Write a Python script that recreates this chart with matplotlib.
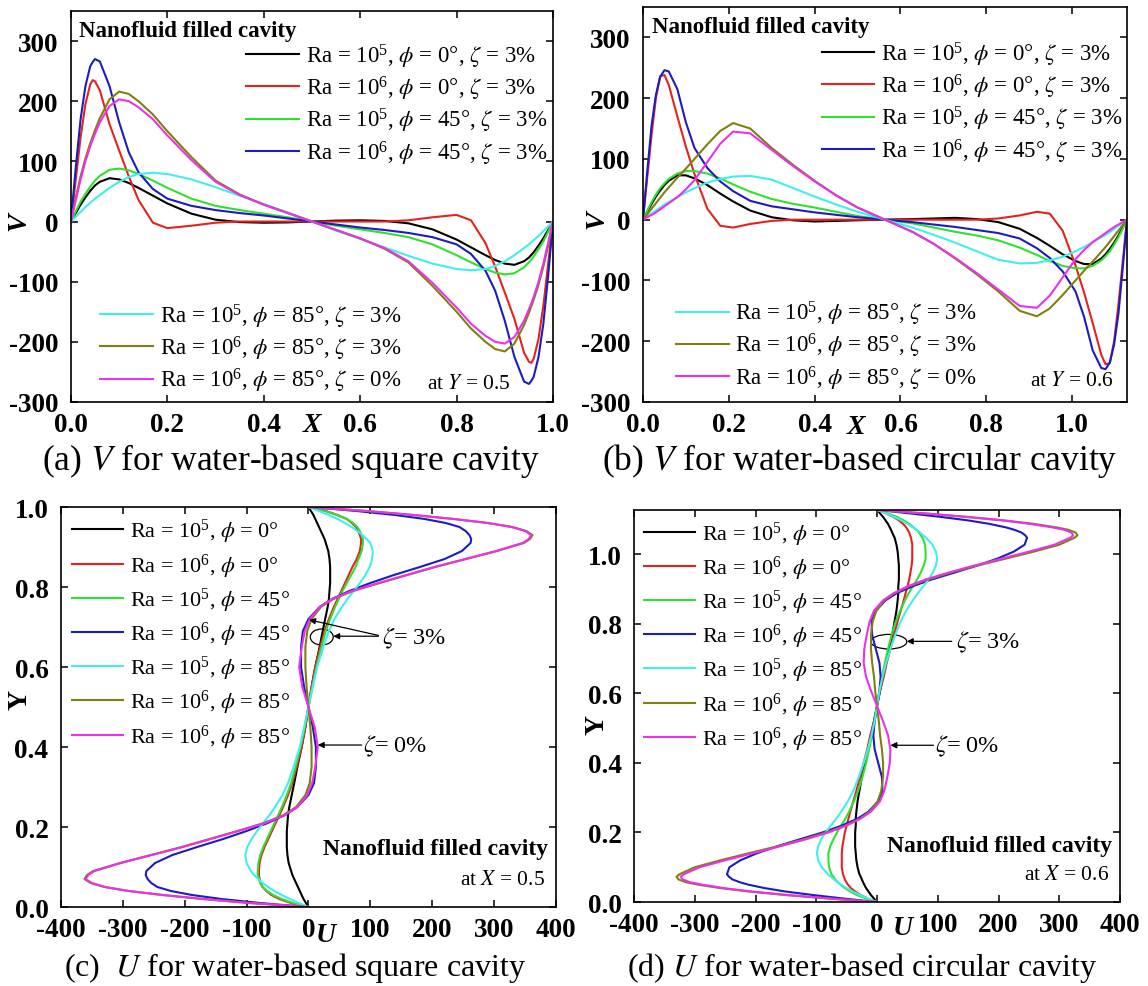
import matplotlib
matplotlib.use("Agg")

import matplotlib.pyplot as plt
from matplotlib.patches import Ellipse

plt.rcParams["font.family"] = "Liberation Serif"
plt.rcParams["mathtext.fontset"] = "stix"

# line colours: black, red, green, blue, cyan, olive, magenta
colors = ["#000000", "#e3241e", "#30e030", "#1c1cc0", "#40eeee", "#80800e", "#ec30ec"]

# ---- (a) V along X at Y = 0.5, square cavity ----
xa = [0.0, 0.01, 0.02, 0.03, 0.04, 0.045, 0.05, 0.06, 0.08, 0.10, 0.12, 0.14, 0.17, 0.20, 0.25, 0.30,
      0.35, 0.40, 0.45, 0.50, 0.55, 0.60, 0.65, 0.70, 0.75, 0.80, 0.83, 0.86, 0.88, 0.90, 0.92,
      0.94, 0.95, 0.955, 0.96, 0.97, 0.98, 0.99, 1.0]
va_black = [0, 14, 28, 40, 51, 55.5, 60, 66, 72, 70, 64, 56, 43, 30, 13, 3, -1, -2, -1.5, 0,
            1.5, 2, 1, -3, -13, -30, -43, -56, -64, -70, -72, -66, -60, -55.5, -51, -40, -28, -14, 0]
va_red = [0, 70, 140, 195, 228, 235, 233, 218, 162, 118, 75, 36, -2, -11, -7, -2, 0, 0, 0, 0,
          0, 0, 0, 2, 7, 11, 2, -36, -75, -118, -162, -218, -233, -235, -228, -195, -140, -70, 0]
va_green = [0, 17, 33, 46, 58, 63, 68, 76, 86, 88, 85, 79, 68, 56, 38, 26, 19, 13, 7, 0,
            -7, -13, -19, -26, -38, -56, -68, -79, -85, -88, -86, -76, -68, -63, -58, -46, -33, -17, 0]
va_blue = [0, 90, 170, 225, 258, 265, 270, 266, 225, 165, 115, 82, 54, 38, 26, 19, 14, 10, 5, 0,
           -5, -10, -14, -19, -26, -38, -54, -82, -115, -165, -225, -266, -270, -265, -258, -225, -170, -90, 0]
va_cyan = [0, 8, 16, 24, 31, 34.5, 38, 44, 56, 66, 74, 79, 81, 79, 70, 57, 43, 29, 15, 0,
           -15, -29, -43, -57, -70, -79, -81, -79, -74, -66, -56, -44, -38, -34.5, -31, -24, -16, -8, 0]
va_olive = [0, 40, 75, 105, 130, 141, 152, 172, 203, 216, 212, 200, 178, 150, 107, 68, 45, 28, 14, 0,
            -14, -28, -45, -68, -107, -150, -178, -200, -212, -216, -203, -172, -152, -141, -130, -105, -75, -40, 0]
va_magenta = [0, 35, 70, 100, 125, 136, 146, 165, 192, 203, 200, 190, 170, 143, 102, 66, 44, 28, 14, 0,
              -14, -28, -44, -66, -102, -143, -170, -190, -200, -203, -192, -165, -146, -136, -125, -100, -70, -35, 0]

# ---- (b) V along X at Y = 0.6, circular cavity ----
xb = [0.0, 0.01, 0.02, 0.03, 0.04, 0.05, 0.06, 0.08, 0.10, 0.12, 0.15, 0.18, 0.21, 0.25, 0.30,
      0.35, 0.40, 0.45, 0.50, 0.564, 0.628, 0.678, 0.728, 0.778, 0.828, 0.878, 0.918, 0.948,
      0.978, 1.008, 1.028, 1.048, 1.068, 1.078, 1.088, 1.098, 1.108, 1.118, 1.128]
vb_black = [0, 13, 26, 38, 48, 57, 64, 73, 73, 68, 57, 43, 30, 15, 4, -1, -3, -2, -1, 0,
            1, 2, 3, 1, -4, -15, -30, -43, -57, -68, -73, -73, -64, -57, -48, -38, -26, -13, 0]
vb_red = [0, 70, 140, 200, 236, 238, 222, 170, 120, 75, 18, -10, -13, -7, -2, 0, 0, 0, 0, 0,
          0, 0, 0, 0, 2, 7, 13, 10, -18, -75, -120, -170, -222, -238, -236, -200, -140, -70, 0]
vb_green = [0, 15, 29, 41, 52, 60, 67, 76, 80, 80, 76, 68, 58, 46, 34, 26, 20, 13, 6, 0,
            -6, -13, -20, -26, -34, -46, -58, -68, -76, -80, -80, -76, -67, -60, -52, -41, -29, -15, 0]
vb_blue = [0, 80, 155, 205, 235, 246, 244, 215, 160, 118, 85, 63, 47, 31, 22, 17, 12, 8, 4, 0,
           -4, -8, -12, -17, -22, -31, -47, -63, -85, -118, -160, -215, -244, -246, -235, -205, -155, -80, 0]
vb_cyan = [0, 5, 10, 15, 20, 25, 29, 37, 45, 52, 61, 67, 71, 72, 66, 52, 38, 25, 13, 0,
           -13, -25, -38, -52, -66, -72, -71, -67, -61, -52, -45, -37, -29, -25, -20, -15, -10, -5, 0]
vb_olive = [0, 9, 18, 27, 36, 45, 53, 69, 84, 100, 124, 146, 159, 150, 118, 90, 64, 40, 20, 0,
            -20, -40, -64, -90, -118, -150, -159, -146, -124, -100, -84, -69, -53, -45, -36, -27, -18, -9, 0]
vb_magenta = [0, 4, 8, 12, 17, 22, 27, 37, 50, 65, 95, 125, 145, 142, 115, 88, 63, 40, 20, 0,
              -20, -40, -63, -88, -115, -142, -145, -125, -95, -65, -50, -37, -27, -22, -17, -12, -8, -4, 0]

# ---- (c) U along Y at X = 0.5, square cavity ----
yc = [0.0, 0.005, 0.01, 0.02, 0.03, 0.04, 0.05, 0.06, 0.07, 0.08, 0.09, 0.11, 0.13, 0.15, 0.17,
      0.19, 0.21, 0.23, 0.25, 0.28, 0.31, 0.35, 0.40, 0.45, 0.50, 0.55, 0.60, 0.65, 0.69, 0.72,
      0.75, 0.77, 0.79, 0.81, 0.83, 0.85, 0.87, 0.89, 0.91, 0.92, 0.93, 0.94, 0.95, 0.96, 0.97,
      0.98, 0.99, 0.995, 1.0]
uc_black = [0, -2, -4, -8, -11, -14, -17, -20, -23, -26, -28, -32, -34, -35, -35, -35, -34, -33, -31, -27, -23, -18, -11, -5, 0,
            5, 11, 18, 23, 27, 31, 33, 34, 35, 35, 35, 34, 32, 28, 26, 23, 20, 17, 14, 11, 8, 4, 2, 0]
uc_red = [0, -15, -28, -47, -60, -68, -74, -77, -79, -80, -80, -79, -76, -71, -65, -59, -53, -47, -41, -33, -26, -19, -11, -5, 0,
          5, 11, 19, 26, 33, 41, 47, 53, 59, 65, 71, 78, 83, 85, 85, 83, 80, 77, 70, 62, 47, 28, 15, 0]
uc_green = [0, -13, -25, -43, -57, -67, -74, -78, -80, -82, -82, -81, -78, -73, -67, -61, -55, -49, -43, -35, -28, -21, -13, -6, 0,
            6, 13, 21, 28, 35, 43, 49, 55, 62, 69, 76, 81, 86, 88, 88, 86, 83, 79, 72, 62, 46, 27, 14, 0]
uc_blue = [0, -40, -78, -140, -188, -222, -244, -254, -260, -263, -262, -248, -220, -180, -138, -100, -66, -38, -18, 0, 9, 12, 12, 7, 0,
           -7, -12, -12, -9, 0, 18, 38, 66, 100, 138, 180, 220, 248, 262, 263, 260, 254, 244, 222, 188, 140, 78, 40, 0]
uc_cyan = [0, -8, -16, -30, -43, -55, -65, -74, -81, -88, -93, -100, -102, -99, -92, -83, -73, -63, -54, -42, -33, -24, -14, -7, 0,
           7, 14, 24, 33, 42, 54, 63, 73, 83, 92, 99, 103, 104, 100, 94, 87, 79, 70, 59, 47, 33, 17, 8, 0]
uc_olive = [0, -48, -95, -170, -235, -290, -330, -352, -362, -358, -348, -305, -255, -205, -160, -115, -72, -40, -20, -5, 2, 5, 5, 3, 0,
            -3, -5, -5, -2, 5, 20, 40, 72, 115, 160, 205, 255, 305, 348, 358, 362, 352, 330, 290, 235, 170, 95, 48, 0]
uc_magenta = [0, -48, -95, -170, -235, -290, -328, -350, -360, -356, -346, -303, -253, -203, -158, -113, -70, -38, -18, -2, 6, 11, 15, 10, 0,
              -10, -15, -11, -6, 2, 18, 38, 70, 113, 158, 203, 253, 303, 346, 356, 360, 350, 328, 290, 235, 170, 95, 48, 0]

# ---- (d) U along Y at X = 0.6, circular cavity ----
yd = [0.0, 0.005, 0.01, 0.02, 0.03, 0.04, 0.05, 0.057, 0.065, 0.073, 0.08, 0.10, 0.12, 0.14, 0.16,
      0.18, 0.20, 0.22, 0.24, 0.26, 0.29, 0.32, 0.36, 0.40, 0.44, 0.48, 0.52, 0.564, 0.608, 0.648,
      0.688, 0.728, 0.768, 0.808, 0.838, 0.868, 0.888, 0.908, 0.928, 0.948, 0.968, 0.988, 1.008,
      1.028, 1.048, 1.055, 1.063, 1.071, 1.078, 1.088, 1.098, 1.108, 1.118, 1.123, 1.128]
ud_black = [0, -3, -5, -10, -14, -18, -21, -23, -25, -27, -29, -32, -34, -35, -36, -36, -36, -35, -35, -34, -32, -29, -25, -20, -15, -10, -5, 0,
            5, 10, 15, 20, 25, 29, 32, 34, 35, 35, 36, 36, 36, 35, 34, 32, 29, 27, 25, 23, 21, 18, 14, 10, 5, 3, 0]
ud_red = [0, -8, -15, -27, -36, -43, -48, -50.5, -53, -54.5, -56, -58, -58, -58, -57, -55, -53, -50, -47, -44, -39, -34, -28, -22, -16, -11, -5, 0,
          5, 11, 16, 22, 28, 34, 39, 44, 47, 50, 53, 55, 57, 58, 58, 58, 56, 54.5, 53, 50.5, 48, 43, 36, 27, 15, 8, 0]
ud_green = [0, -10, -18, -33, -44, -53, -60, -64.5, -69, -72, -75, -79, -80, -80, -77, -72, -66, -59, -52, -46, -38, -31, -24, -18, -13, -8, -4, 0,
            4, 8, 13, 18, 24, 31, 38, 46, 52, 59, 66, 72, 77, 80, 80, 79, 75, 72, 69, 64.5, 60, 53, 44, 33, 18, 10, 0]
ud_blue = [0, -28, -55, -105, -150, -185, -212, -226, -238, -244, -247, -243, -225, -198, -165, -128, -90, -58, -32, -14, 2, 9, 8, 2, -4, -6, -4, 0,
           4, 6, 4, -2, -8, -9, -2, 14, 32, 58, 90, 128, 165, 198, 225, 243, 247, 244, 238, 226, 212, 185, 150, 105, 55, 28, 0]
ud_cyan = [0, -8, -15, -28, -40, -50, -59, -65, -71, -76, -81, -91, -97, -99, -97, -92, -85, -76, -67, -59, -48, -39, -30, -22, -15, -9, -4, 0,
           4, 9, 15, 22, 30, 39, 48, 59, 67, 76, 85, 92, 97, 99, 97, 91, 81, 76, 71, 65, 59, 50, 40, 28, 15, 8, 0]
ud_olive = [0, -40, -80, -150, -210, -258, -295, -315, -327, -330, -325, -300, -258, -212, -165, -122, -84, -52, -28, -12, 1, 7, 10, 10, 8, 5, 3, 0,
            -3, -5, -8, -10, -10, -7, -1, 12, 28, 52, 84, 122, 165, 212, 258, 300, 325, 330, 327, 315, 295, 258, 210, 150, 80, 40, 0]
ud_magenta = [0, -40, -78, -146, -205, -252, -288, -308, -320, -323, -318, -292, -250, -205, -160, -118, -80, -50, -27, -10, 5, 12, 17, 21, 22, 18, 10, 0,
              -10, -18, -22, -21, -17, -12, -5, 10, 27, 50, 80, 118, 160, 205, 250, 292, 318, 323, 320, 308, 288, 252, 205, 146, 78, 40, 0]

labels_v = [r"Ra = $\mathregular{10^5}$, $\phi$ = 0°, $\zeta$ = 3%",
            r"Ra = $\mathregular{10^6}$, $\phi$ = 0°, $\zeta$ = 3%",
            r"Ra = $\mathregular{10^5}$, $\phi$ = 45°, $\zeta$ = 3%",
            r"Ra = $\mathregular{10^6}$, $\phi$ = 45°, $\zeta$ = 3%",
            r"Ra = $\mathregular{10^5}$, $\phi$ = 85°, $\zeta$ = 3%",
            r"Ra = $\mathregular{10^6}$, $\phi$ = 85°, $\zeta$ = 3%",
            r"Ra = $\mathregular{10^6}$, $\phi$ = 85°, $\zeta$ = 0%"]
labels_u = [r"Ra = $\mathregular{10^5}$, $\phi$ = 0°",
            r"Ra = $\mathregular{10^6}$, $\phi$ = 0°",
            r"Ra = $\mathregular{10^5}$, $\phi$ = 45°",
            r"Ra = $\mathregular{10^6}$, $\phi$ = 45°",
            r"Ra = $\mathregular{10^5}$, $\phi$ = 85°",
            r"Ra = $\mathregular{10^6}$, $\phi$ = 85°",
            r"Ra = $\mathregular{10^6}$, $\phi$ = 85°"]

v_ticks = [-300, -200, -100, 0, 100, 200, 300]
x_ticks = [0.0, 0.2, 0.4, 0.6, 0.8, 1.0]
u_ticks = [-400, -300, -200, -100, 0, 100, 200, 300, 400]
y_ticks = [0.0, 0.2, 0.4, 0.6, 0.8, 1.0]

TICK_FS = 19.5


def style_axes(ax, xt, xl, yt, yl):
    ax.set_xticks(xt)
    ax.set_xticklabels(xl, fontweight="bold", fontsize=TICK_FS)
    ax.set_yticks(yt)
    ax.set_yticklabels(yl, fontweight="bold", fontsize=TICK_FS)
    ax.tick_params(direction="in", top=True, right=True, length=5, width=1.1)
    ax.tick_params(axis="x", pad=7)
    ax.tick_params(axis="y", pad=9)
    for s in ax.spines.values():
        s.set_linewidth(1.2)


def make_legend(ax, handles, labels, anchor, fs=16.5, spacing=0.18):
    return ax.legend(handles, labels, loc="upper left", bbox_to_anchor=anchor, frameon=False,
                     fontsize=fs, handlelength=2.3, handletextpad=0.3, labelspacing=spacing,
                     borderpad=0, borderaxespad=0)


def arrow(ax, start, end):
    ax.annotate("", xy=end, xytext=start,
                arrowprops=dict(arrowstyle="-|>", color="k", lw=0.9, mutation_scale=9,
                                shrinkA=0, shrinkB=0))


fig = plt.figure(figsize=(11.48, 9.87), dpi=100)
ax_a = fig.add_axes([0.0618, 0.5917, 0.4199, 0.3962])
ax_b = fig.add_axes([0.5601, 0.5917, 0.4216, 0.4002])
ax_c = fig.add_axes([0.0531, 0.0800, 0.4312, 0.4053])
ax_d = fig.add_axes([0.5523, 0.0851, 0.4233, 0.3972])

# (a)
lines = []
for v, c in zip([va_black, va_red, va_green, va_blue, va_cyan, va_olive, va_magenta], colors):
    lines += ax_a.plot(xa, v, color=c, lw=1.5)
ax_a.set_xlim(0, 1.0)
ax_a.set_ylim(-300, 350)
style_axes(ax_a, x_ticks, ["0.0", "0.2", "0.4", "0.6", "0.8", "1.0"],
           v_ticks, ["-300", "-200", "-100", "0", "100", "200", "300"])
leg1 = make_legend(ax_a, lines[:4], labels_v[:4], (0.364, 0.922))
ax_a.add_artist(leg1)
make_legend(ax_a, lines[4:], labels_v[4:], (0.061, 0.257))
ax_a.text(0.017, 318, "Nanofluid filled cavity", fontsize=16.5, fontweight="bold", va="center")
ax_a.text(0.912, -270, r"at $Y$ = 0.5", fontsize=15.5, ha="right", va="center")
ax_a.text(0.5, -0.058, "X", transform=ax_a.transAxes, fontsize=20, fontweight="bold",
          fontstyle="italic", ha="center", va="center")
ax_a.text(-0.108, 0.463, "V", transform=ax_a.transAxes, fontsize=20, fontweight="bold",
          fontstyle="italic", ha="center", va="center", rotation=90)

# (b)
lines = []
for v, c in zip([vb_black, vb_red, vb_green, vb_blue, vb_cyan, vb_olive, vb_magenta], colors):
    lines += ax_b.plot(xb, v, color=c, lw=1.5)
ax_b.set_xlim(0, 1.128)
ax_b.set_ylim(-300, 350)
style_axes(ax_b, x_ticks, ["0.0", "0.2", "0.4", "0.6", "0.8", "1.0"],
           v_ticks, ["-300", "-200", "-100", "0", "100", "200", "300"])
leg1 = make_legend(ax_b, lines[:4], labels_v[:4], (0.369, 0.918))
ax_b.add_artist(leg1)
make_legend(ax_b, lines[4:], labels_v[4:], (0.068, 0.261))
ax_b.text(0.021, 318, "Nanofluid filled cavity", fontsize=16.5, fontweight="bold", va="center")
ax_b.text(1.097, -264, r"at $Y$ = 0.6", fontsize=15.5, ha="right", va="center")
ax_b.text(0.44, -0.063, "X", transform=ax_b.transAxes, fontsize=20, fontweight="bold",
          fontstyle="italic", ha="center", va="center")
ax_b.text(-0.095, 0.463, "V", transform=ax_b.transAxes, fontsize=20, fontweight="bold",
          fontstyle="italic", ha="center", va="center", rotation=90)

# (c)
lines = []
for u, c in zip([uc_black, uc_red, uc_green, uc_blue, uc_cyan, uc_olive, uc_magenta], colors):
    lines += ax_c.plot(u, yc, color=c, lw=1.5)
ax_c.set_xlim(-400, 400)
ax_c.set_ylim(0, 1.0)
style_axes(ax_c, u_ticks, ["-400", "-300", "-200", "-100", "0", "100", "200", "300", "400"],
           y_ticks, ["0.0", "0.2", "0.4", "0.6", "0.8", "1.0"])
make_legend(ax_c, lines, labels_u, (0.0225, 0.9745), fs=16, spacing=0.27)
ax_c.add_patch(Ellipse((21.5, 0.675), 37, 0.04, fill=False, ec="k", lw=0.9))
arrow(ax_c, (113, 0.677), (40, 0.677))
arrow(ax_c, (113, 0.679), (1, 0.718))
ax_c.text(119, 0.675, r"$\zeta$= 3%", fontsize=17.5, va="center")
arrow(ax_c, (86, 0.405), (15, 0.405))
ax_c.text(88, 0.405, r"$\zeta$= 0%", fontsize=17.5, va="center")
ax_c.text(388, 0.147, "Nanofluid filled cavity", fontsize=17, fontweight="bold", ha="right", va="center")
ax_c.text(382, 0.068, r"at $X$ = 0.5", fontsize=15.5, ha="right", va="center")
ax_c.text(0.535, -0.068, "U", transform=ax_c.transAxes, fontsize=20, fontweight="bold",
          fontstyle="italic", ha="center", va="center")
ax_c.text(-0.083, 0.52, "Y", transform=ax_c.transAxes, fontsize=20, fontweight="bold",
          ha="center", va="center", rotation=90)

# (d)
lines = []
for u, c in zip([ud_black, ud_red, ud_green, ud_blue, ud_cyan, ud_olive, ud_magenta], colors):
    lines += ax_d.plot(u, yd, color=c, lw=1.5)
ax_d.set_xlim(-400, 400)
ax_d.set_ylim(0, 1.128)
style_axes(ax_d, u_ticks, ["-400", "-300", "-200", "-100", "0", "100", "200", "300", "400"],
           y_ticks, ["0.0", "0.2", "0.4", "0.6", "0.8", "1.0"])
make_legend(ax_d, lines, labels_u, (0.02, 0.976), fs=16, spacing=0.27)
ax_d.add_patch(Ellipse((19.5, 0.749), 59, 0.042, fill=False, ec="k", lw=0.9))
arrow(ax_d, (123, 0.75), (49, 0.75))
ax_d.text(130, 0.75, r"$\zeta$= 3%", fontsize=17.5, va="center")
arrow(ax_d, (93, 0.451), (22, 0.451))
ax_d.text(96, 0.451, r"$\zeta$= 0%", fontsize=17.5, va="center")
ax_d.text(387, 0.164, "Nanofluid filled cavity", fontsize=17, fontweight="bold", ha="right", va="center")
ax_d.text(382, 0.078, r"at $X$ = 0.6", fontsize=15.5, ha="right", va="center")
ax_d.text(0.553, -0.064, "U", transform=ax_d.transAxes, fontsize=20, fontweight="bold",
          fontstyle="italic", ha="center", va="center")
ax_d.text(-0.076, 0.454, "Y", transform=ax_d.transAxes, fontsize=20, fontweight="bold",
          ha="center", va="center", rotation=90)

# captions under each panel
fig.text(0.2535, 0.533, r"(a) $V$ for water-based square cavity", fontsize=25.5, ha="center", va="center")
fig.text(0.749, 0.533, r"(b) $V$ for water-based circular cavity", fontsize=25.5, ha="center", va="center")
fig.text(0.257, 0.019, r"(c)  $U$ for water-based square cavity", fontsize=23, ha="center", va="center")
fig.text(0.751, 0.019, r"(d) $U$ for water-based circular cavity", fontsize=23, ha="center", va="center")

fig.savefig("out.png", dpi=100)
plt.close(fig)
